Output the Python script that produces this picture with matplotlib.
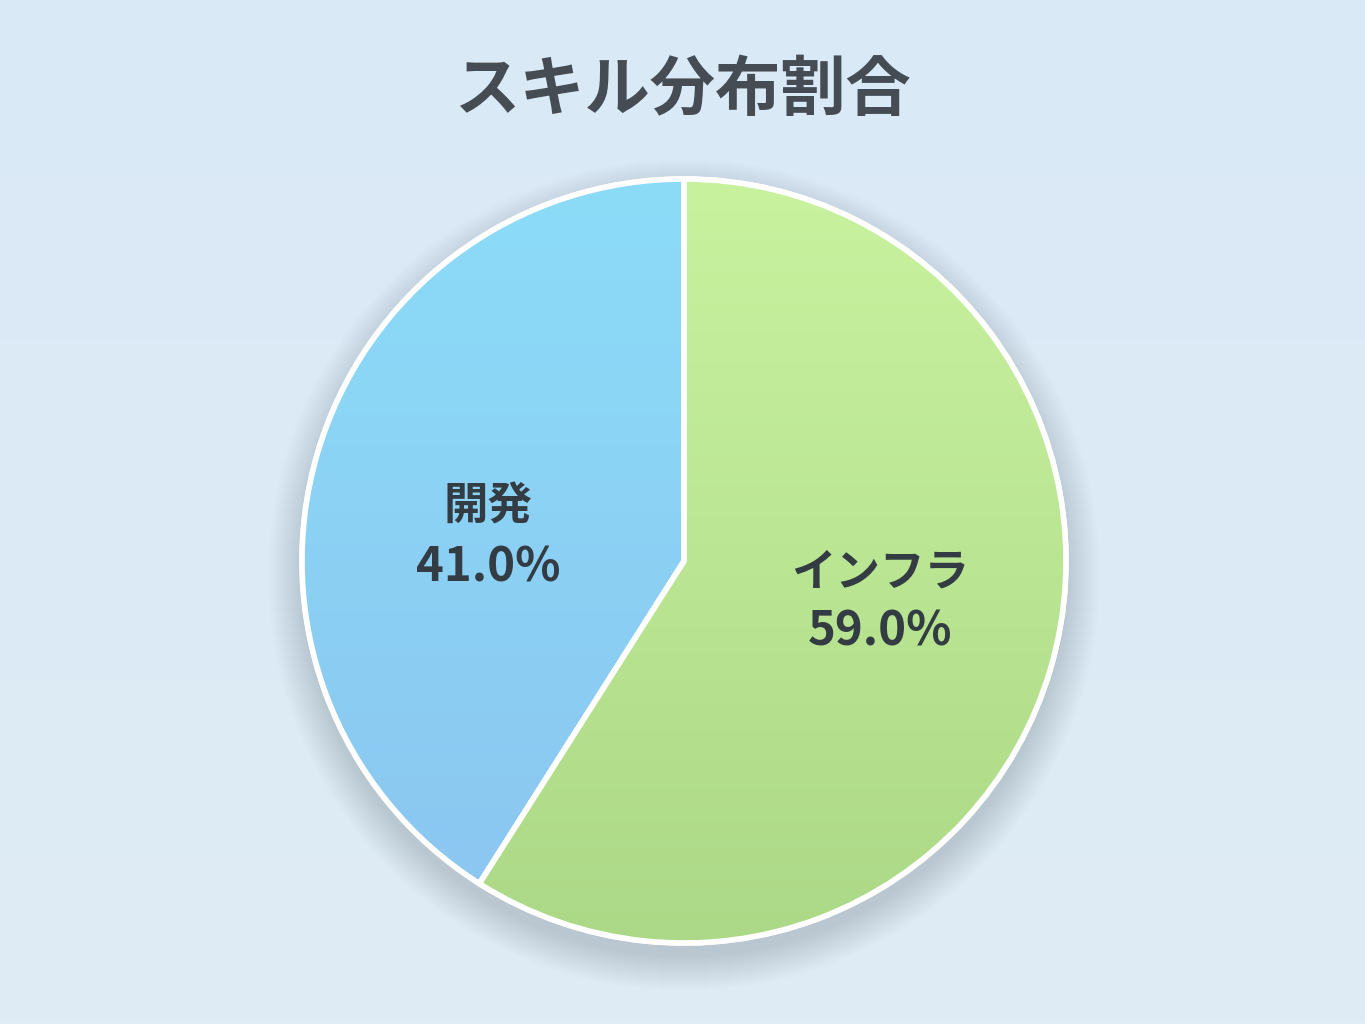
import numpy as np
import matplotlib
matplotlib.use("Agg")
import matplotlib.pyplot as plt
from matplotlib.patches import Circle

plt.rcParams['font.family'] = ['Noto Sans CJK JP', 'DejaVu Sans']

title = "スキル分布割合"
categories = ["インフラ", "開発"]
values = [59.0, 41.0]

W, H = 1365, 1024
fig = plt.figure(figsize=(W / 100, H / 100), dpi=100)
ax = fig.add_axes([0, 0, 1, 1])
ax.set_xlim(0, W)
ax.set_ylim(0, H)
ax.set_aspect('equal')
ax.axis('off')

# background gradient
bg = np.linspace(0, 1, 256)[:, None]
c_top = np.array([0xd9, 0xe9, 0xf5]) / 255
c_bot = np.array([0xdf, 0xec, 0xf6]) / 255
bgimg = c_top[None, None, :] * (1 - bg[..., None]) + c_bot[None, None, :] * bg[..., None]
bgimg = np.repeat(bgimg, 2, axis=1)
ax.imshow(bgimg, extent=[0, W, 0, H], origin='upper', aspect='auto', zorder=0)

cx, cy, R = 684, H - 561, 382

# soft shadow
for i in range(36):
    r = R + 34 - i
    ax.add_patch(Circle((cx, cy - 14), r, color='#86a4c4', alpha=0.009, lw=0, zorder=1))

wedges, _ = ax.pie(values, startangle=90, counterclock=False, center=(cx, cy),
                   radius=R, wedgeprops=dict(edgecolor='white', linewidth=4),
                   frame=True)
ax.set_xlim(0, W)
ax.set_ylim(0, H)
ax.axis('off')

grads = [("#c9f29f", "#acd987"), ("#8cdcf8", "#8bc5f0")]
yy = np.linspace(0, 1, 256)[:, None]
for w, (ct, cb) in zip(wedges, grads):
    ct = np.array(matplotlib.colors.to_rgb(ct))
    cb = np.array(matplotlib.colors.to_rgb(cb))
    img = ct[None, None, :] * (1 - yy[..., None]) + cb[None, None, :] * yy[..., None]
    img = np.repeat(img, 2, axis=1)
    w.set_facecolor(ct)
    w.set_zorder(2)
    im = ax.imshow(img, extent=[cx - R, cx + R, cy - R, cy + R], origin='upper',
                   aspect='auto', zorder=2.1)
    im.set_clip_path(w)
    e = matplotlib.patches.Wedge(w.center, w.r, w.theta1, w.theta2, facecolor='none',
                                 edgecolor='white', linewidth=4, zorder=3)
    ax.add_patch(e)

ax.add_patch(Circle((cx, cy), R, facecolor='none', edgecolor='white', lw=3, zorder=3))

label_pos = [(880, H - 602), (488, H - 537)]
for (lx, ly), cat, v in zip(label_pos, categories, values):
    ax.text(lx, ly + 30, cat, ha='center', va='center', fontsize=32,
            fontweight='bold', color='#333c42', zorder=5)
    ax.text(lx, ly - 30, f"{v:.1f}%", ha='center', va='center', fontsize=34,
            fontweight='bold', color='#333c42', zorder=5)

ax.text(682, H - 90, title, ha='center', va='center', fontsize=47,
        fontweight='bold', color='#454c54', zorder=5)

fig.savefig("out.png", dpi=100)
